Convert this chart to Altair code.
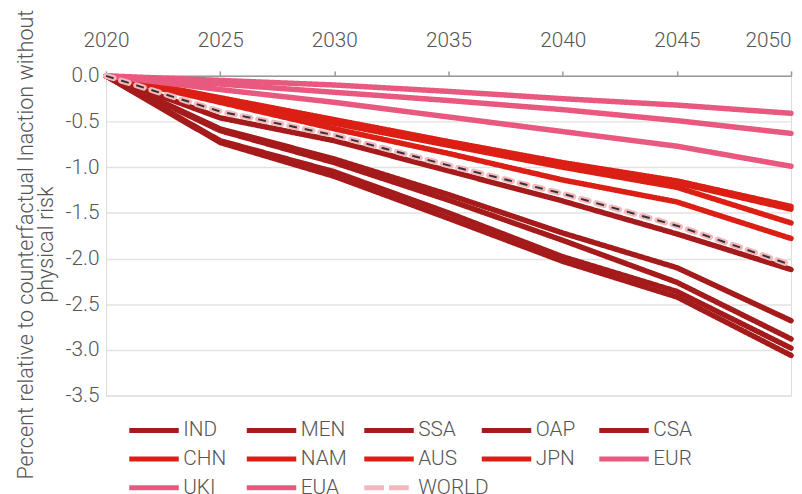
import altair as alt
import pandas as pd

years = [2020, 2025, 2030, 2035, 2040, 2045, 2050]

regions = ["IND", "MEN", "SSA", "OAP", "CSA", "CHN", "NAM", "AUS", "JPN",
           "EUR", "UKI", "EUA", "WORLD"]

IND = [0.0, -0.73, -1.10, -1.56, -2.03, -2.42, -3.06]
MEN = [0.0, -0.71, -1.05, -1.50, -1.98, -2.36, -2.98]
SSA = [0.0, -0.60, -0.95, -1.36, -1.80, -2.26, -2.88]
OAP = [0.0, -0.58, -0.91, -1.30, -1.72, -2.10, -2.68]
CSA = [0.0, -0.46, -0.71, -1.04, -1.37, -1.73, -2.12]
CHN = [0.0, -0.24, -0.48, -0.72, -0.95, -1.15, -1.43]
NAM = [0.0, -0.25, -0.50, -0.74, -0.97, -1.17, -1.46]
AUS = [0.0, -0.26, -0.52, -0.76, -1.00, -1.22, -1.61]
JPN = [0.0, -0.29, -0.58, -0.85, -1.14, -1.38, -1.78]
EUR = [0.0, -0.05, -0.10, -0.17, -0.25, -0.32, -0.41]
UKI = [0.0, -0.09, -0.18, -0.27, -0.37, -0.49, -0.63]
EUA = [0.0, -0.15, -0.29, -0.45, -0.61, -0.77, -0.99]
WORLD = [0.0, -0.39, -0.65, -0.98, -1.29, -1.64, -2.07]

series = [IND, MEN, SSA, OAP, CSA, CHN, NAM, AUS, JPN, EUR, UKI, EUA, WORLD]

DARK = "#A51B1B"
RED = "#DC1F15"
PINK = "#E8587F"
LIGHT = "#F5B9BD"
colors = [DARK] * 5 + [RED] * 4 + [PINK] * 3 + [LIGHT]
dashes = [[1, 0]] * 12 + [[20, 5]]

rows = []
for name, vals in zip(regions, series):
    for yr, v in zip(years, vals):
        rows.append({"year": yr, "value": v, "region": name})
df = pd.DataFrame(rows)

FONT = "Roboto"
TXT = "#555555"

x_enc = alt.X(
    "year:Q",
    scale=alt.Scale(domain=[2020, 2050], nice=False, zero=False),
    axis=alt.Axis(
        orient="top", values=years, format="d", title=None, grid=False,
        domainColor="#999999", domainWidth=1.5, tickColor="#999999",
        tickWidth=1.5, tickSize=5, labelPadding=21, labelFontSize=21,
        labelFont=FONT, labelFontWeight=300, labelColor=TXT,
        labelAlign={"condition": {"test": "datum.value == 2050", "value": "right"}, "value": "center"},
    ),
)

y_ticks = [0.0, -0.5, -1.0, -1.5, -2.0, -2.5, -3.0, -3.5]
y_enc = alt.Y(
    "value:Q",
    scale=alt.Scale(domain=[-3.5, 0], nice=False, zero=False),
    axis=alt.Axis(
        values=y_ticks,
        labelExpr="datum.value == 0 ? '0.0' : '-' + format(abs(datum.value), '.1f')",
        title=["Percent relative to counterfactual Inaction without", "physical risk"],
        domain=False, ticks=False, tickSize=0, grid=True, gridColor="#E2E2E2",
        gridWidth=1.5, labelPadding=7, labelFontSize=21, labelFont=FONT,
        labelFontWeight=300, labelColor=TXT, titleFont=FONT, titleFontSize=21.8,
        titleFontWeight=300, titleColor=TXT, titleX=-69, titleY=170,
        titleAlign="center", titleBaseline="bottom", titleLineHeight=20,
    ),
)

legend = alt.Legend(
    title=None, orient="none", legendX=36, legendY=345.5, columns=5,
    direction="horizontal",
    symbolType="M-2.5,0H2.5", symbolSize=400, symbolStrokeWidth=5,
    labelFont=FONT, labelFontSize=21, labelFontWeight=300, labelColor=TXT,
    gridAlign="all", columnPadding=-18.3, rowPadding=6, labelOffset=17,
)

main = alt.Chart(df).transform_filter("datum.region != 'WORLD'").mark_line(
    strokeWidth=5.5, strokeCap="round", strokeJoin="round"
).encode(
    x=x_enc,
    y=y_enc,
    color=alt.Color("region:N", scale=alt.Scale(domain=regions, range=colors), legend=legend),
    strokeDash=alt.StrokeDash("region:N", scale=alt.Scale(domain=regions, range=dashes), legend=legend),
    order=alt.Order("year:Q"),
)

world_df = df[df["region"] == "WORLD"]
world_pink = alt.Chart(world_df).mark_line(
    color=LIGHT, strokeWidth=6, strokeDash=[8, 8], strokeCap="round"
).encode(x="year:Q", y="value:Q")
world_black = alt.Chart(world_df).mark_line(
    color="#333333", strokeWidth=2, strokeDash=[8, 8], strokeCap="butt"
).encode(x="year:Q", y="value:Q")

chart = alt.layer(main, world_pink, world_black).properties(
    width=692, height=323,
    autosize=alt.AutoSizeParams(type="none"),
    padding={"left": 99, "top": 66, "right": 3, "bottom": 110},
).configure_view(stroke=None).configure(font=FONT)

chart.save("out.html", embed_options={"renderer": "svg", "actions": False})
